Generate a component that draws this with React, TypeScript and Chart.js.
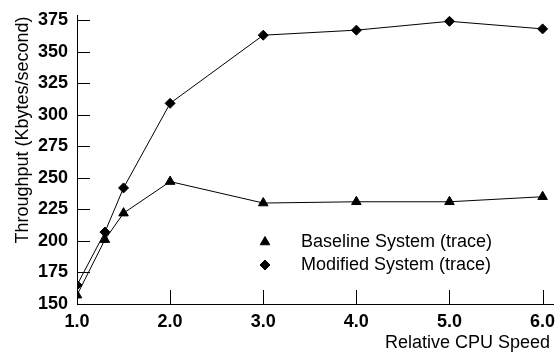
import React, { useEffect, useRef } from 'react';
import { Chart, registerables } from 'chart.js';
import { drawPoint } from 'chart.js/helpers';

Chart.register(...registerables);

const cpuSpeed = [1.0, 1.3, 1.5, 2.0, 3.0, 4.0, 5.0, 6.0];
const baseline = [157, 201, 222, 247, 230, 231, 231, 235];
const modified = [165, 207, 242, 309, 363, 367, 374, 368];
const xTickValues = [1, 2, 3, 4, 5, 6];
const yTickValues = [150, 175, 200, 225, 250, 275, 300, 325, 350, 375];
const seriesNames = ['Baseline System (trace)', 'Modified System (trace)'];
const xTitle = 'Relative CPU Speed';
const yTitle = 'Throughput (Kbytes/second)';

const FONT = '"Liberation Sans", Arial, Helvetica, sans-serif';

const decorPlugin = {
  id: 'decor',
  afterDraw(chart: any) {
    const { ctx, chartArea, scales } = chart;
    const xs = scales.x;
    const ys = scales.y;
    ctx.save();
    ctx.strokeStyle = '#000';
    ctx.lineWidth = 1;
    // inward tick marks
    ctx.beginPath();
    for (const v of xTickValues) {
      const px = Math.round(xs.getPixelForValue(v)) + 0.5;
      ctx.moveTo(px, chartArea.bottom);
      ctx.lineTo(px, chartArea.bottom - 14);
    }
    for (const v of yTickValues) {
      const py = Math.round(ys.getPixelForValue(v)) + 0.5;
      ctx.moveTo(chartArea.left, py);
      ctx.lineTo(chartArea.left + 13, py);
    }
    ctx.stroke();

    // axis titles
    ctx.fillStyle = '#000';
    ctx.font = '18px ' + FONT;
    ctx.textAlign = 'right';
    ctx.textBaseline = 'middle';
    ctx.fillText(xTitle, 550, 343);

    ctx.save();
    ctx.translate(23, 130);
    ctx.rotate(-Math.PI / 2);
    ctx.textAlign = 'center';
    ctx.textBaseline = 'middle';
    ctx.fillText(yTitle, 0, 0);
    ctx.restore();

    // legend
    const ds = chart.data.datasets;
    const legendX = 265;
    const legendY = [242, 265];
    ds.forEach((d: any, i: number) => {
      ctx.fillStyle = '#000';
      ctx.strokeStyle = '#000';
      ctx.lineWidth = 1;
      drawPoint(ctx, { pointStyle: d.pointStyle, radius: d.pointRadius, borderWidth: 1, rotation: 0 }, legendX, legendY[i]);
      ctx.fillStyle = '#000';
      ctx.textAlign = 'left';
      ctx.textBaseline = 'middle';
      ctx.font = '18px ' + FONT;
      ctx.fillText(d.label, 301, legendY[i]);
    });
    ctx.restore();
  },
};

export default function App() {
  const canvasRef = useRef<HTMLCanvasElement | null>(null);

  useEffect(() => {
    document.body.style.margin = '0';
    const canvas = canvasRef.current;
    if (!canvas) return;
    const chart = new Chart(canvas, {
      type: 'line',
      data: {
        datasets: [
          {
            label: seriesNames[0],
            data: cpuSpeed.map((x, i) => ({ x, y: baseline[i] })),
            borderColor: '#000',
            backgroundColor: '#000',
            borderWidth: 1,
            pointStyle: 'triangle',
            pointRadius: 5.5,
            pointBorderWidth: 1,
            pointBackgroundColor: '#000',
            pointBorderColor: '#000',
            tension: 0,
            fill: false,
          },
          {
            label: seriesNames[1],
            data: cpuSpeed.map((x, i) => ({ x, y: modified[i] })),
            borderColor: '#000',
            backgroundColor: '#000',
            borderWidth: 1,
            pointStyle: 'rectRot',
            pointRadius: 5,
            pointBorderWidth: 1,
            pointBackgroundColor: '#000',
            pointBorderColor: '#000',
            tension: 0,
            fill: false,
          },
        ],
      },
      options: {
        responsive: false,
        animation: false,
        devicePixelRatio: 1,
        layout: { padding: { top: 15, right: 2, left: 0, bottom: 0 } },
        plugins: {
          legend: { display: false },
          tooltip: { enabled: false },
          title: { display: false },
        },
        scales: {
          x: {
            type: 'linear',
            min: 1,
            max: 6.117,
            afterBuildTicks: (scale: any) => {
              scale.ticks = xTickValues.map((v) => ({ value: v }));
            },
            afterFit: (scale: any) => {
              scale.height = 50;
              scale.paddingLeft = 0;
              scale.paddingRight = 0;
            },
            grid: { display: false, drawTicks: false },
            border: { display: true, color: '#000', width: 1 },
            ticks: {
              color: '#000',
              padding: 7,
              maxRotation: 0,
              autoSkip: false,
              font: { family: FONT, size: 18, weight: 'bold' },
              callback: (v: any) => Number(v).toFixed(1),
            },
          },
          y: {
            type: 'linear',
            min: 150,
            max: 379,
            afterBuildTicks: (scale: any) => {
              scale.ticks = yTickValues.map((v) => ({ value: v }));
            },
            afterFit: (scale: any) => {
              scale.width = 77;
              scale.paddingTop = 0;
              scale.paddingBottom = 0;
            },
            grid: { display: false, drawTicks: false },
            border: { display: true, color: '#000', width: 1 },
            ticks: {
              color: '#000',
              padding: 9,
              autoSkip: false,
              font: { family: FONT, size: 18, weight: 'bold' },
              callback: (v: any) => String(v),
            },
          },
        },
      },
      plugins: [decorPlugin],
    } as any);
    return () => chart.destroy();
  }, []);

  return (
    <div style={{ width: 560, height: 354, background: '#fff' }}>
      <canvas ref={canvasRef} width={560} height={354} />
    </div>
  );
}
